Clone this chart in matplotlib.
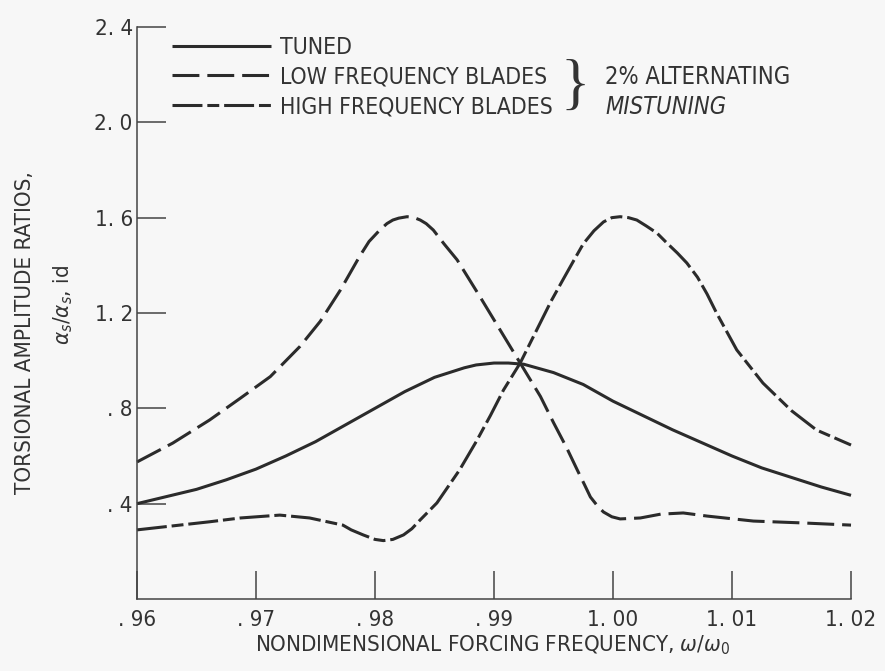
import numpy as np
import matplotlib.pyplot as plt

# values
freq_tuned = [0.960, 0.9625, 0.965, 0.9675, 0.970, 0.9725, 0.975, 0.9775, 0.980,
              0.9825, 0.985, 0.9875, 0.9885, 0.990, 0.9912, 0.9925, 0.995, 0.9975,
              1.000, 1.0025, 1.005, 1.0075, 1.010, 1.0125, 1.015, 1.0175, 1.020]
amp_tuned = [0.40, 0.43, 0.46, 0.50, 0.545, 0.60, 0.66, 0.73, 0.80,
             0.87, 0.93, 0.97, 0.982, 0.99, 0.99, 0.985, 0.95, 0.90,
             0.83, 0.77, 0.71, 0.655, 0.60, 0.55, 0.51, 0.47, 0.435]

freq_low = [0.960, 0.963, 0.9661, 0.9687, 0.9712, 0.9737, 0.9754, 0.9771, 0.9787,
            0.9795, 0.9804, 0.981, 0.9815, 0.982, 0.9827, 0.9833, 0.9838, 0.9843,
            0.9849, 0.9858, 0.9869, 0.9888, 0.9905, 0.9922, 0.9939, 0.995, 0.9961,
            0.997, 0.9976, 0.9981, 0.9987, 0.9992, 0.9999, 1.0006, 1.0023, 1.004,
            1.0059, 1.0079, 1.0118, 1.016, 1.020]
amp_low = [0.575, 0.654, 0.751, 0.843, 0.933, 1.06, 1.165, 1.297, 1.437,
           1.50, 1.548, 1.575, 1.59, 1.598, 1.604, 1.600, 1.59, 1.575,
           1.548, 1.49, 1.423, 1.27, 1.13, 0.99, 0.85, 0.74, 0.635,
           0.541, 0.48, 0.428, 0.39, 0.365, 0.345, 0.336, 0.34, 0.356,
           0.361, 0.348, 0.327, 0.319, 0.31]

freq_high = [0.960, 0.9661, 0.9687, 0.972, 0.9745, 0.9773, 0.978, 0.979, 0.980,
             0.9807, 0.9815, 0.9824, 0.9831, 0.9838, 0.9852, 0.9871, 0.9885, 0.9897,
             0.9908, 0.9922, 0.993, 0.9939, 0.9948, 0.9958, 0.9967, 0.9975, 0.9984,
             0.9992, 0.9999, 1.0006, 1.0013, 1.002, 1.0028, 1.0037, 1.0045, 1.0054,
             1.0062, 1.0071, 1.0079, 1.0087, 1.0104, 1.0126, 1.0150, 1.0171, 1.020]
amp_high = [0.29, 0.324, 0.34, 0.352, 0.34, 0.31, 0.29, 0.269, 0.25,
            0.245, 0.25, 0.269, 0.295, 0.332, 0.403, 0.541, 0.66, 0.77,
            0.877, 0.99, 1.07, 1.16, 1.25, 1.34, 1.42, 1.49, 1.545,
            1.582, 1.600, 1.604, 1.600, 1.59, 1.565, 1.535, 1.495, 1.452,
            1.41, 1.35, 1.28, 1.20, 1.045, 0.906, 0.79, 0.709, 0.646]

x_ticks = [0.96, 0.97, 0.98, 0.99, 1.00, 1.01, 1.02]
x_labels = [". 96", ". 97", ". 98", ". 99", "1. 00", "1. 01", "1. 02"]
y_ticks = [0.4, 0.8, 1.2, 1.6, 2.0, 2.4]
y_labels = [". 4", ". 8", "1. 2", "1. 6", "2. 0", "2. 4"]

ink = "#2b2b2b"
txt = "#333333"
bg = "#f7f7f7"

plt.rcParams["font.family"] = ["DejaVu Sans"]
plt.rcParams["font.stretch"] = "condensed"
plt.rcParams["mathtext.fontset"] = "dejavusans"

fig = plt.figure(figsize=(8.85, 6.71), dpi=100, facecolor=bg)
ax = fig.add_axes([0.1548, 0.1073, 0.8068, 0.8525], facecolor=bg)

lw = 2.2
ax.plot(freq_tuned, amp_tuned, color=ink, lw=lw, clip_on=False,
        solid_capstyle="butt", label="TUNED")
ax.plot(freq_low, amp_low, color=ink, lw=lw, clip_on=False,
        linestyle=(0, (8.8, 2.6)), dash_capstyle="butt",
        label="LOW FREQUENCY BLADES")
ax.plot(freq_high, amp_high, color=ink, lw=lw, clip_on=False,
        linestyle=(0, (9.8, 1.6, 3.9, 1.6)), dash_capstyle="butt",
        label="HIGH FREQUENCY BLADES")

ax.set_xlim(0.96, 1.02)
ax.set_ylim(0, 2.4)
ax.spines["top"].set_visible(False)
ax.spines["right"].set_visible(False)
for s in ["left", "bottom"]:
    ax.spines[s].set_color("#444444")
    ax.spines[s].set_linewidth(1.1)

ax.set_xticks(x_ticks)
ax.set_xticklabels(x_labels)
ax.set_yticks(y_ticks)
ax.set_yticklabels(y_labels)
ax.tick_params(axis="x", direction="in", length=20, width=1.1, color="#444444",
               pad=8, labelsize=16, labelcolor=txt)
ax.tick_params(axis="y", direction="in", length=21, width=1.1, color="#444444",
               pad=3, labelsize=16, labelcolor=txt)

leg = ax.legend(loc="upper left", bbox_to_anchor=(0.049, 0.985), frameon=False,
                fontsize=16.5, handlelength=4.3, handletextpad=0.4,
                labelspacing=0.3, borderpad=0, borderaxespad=0)
for t in leg.get_texts():
    t.set_color(txt)

fig.text(0.650, 0.869, "}", fontsize=44, color=txt, ha="center", va="center",
         family="Liberation Serif", fontstretch="normal")
fig.text(0.684, 0.885, "2% ALTERNATING", fontsize=17, color=txt, va="center")
fig.text(0.684, 0.840, "MISTUNING", fontsize=17, color=txt, va="center",
         style="italic")

fig.text(0.028, 0.504, "TORSIONAL AMPLITUDE RATIOS,", rotation=90, fontsize=16,
         color=txt, ha="center", va="center")
fig.text(0.071, 0.545, r"$\alpha_s/\alpha_s$, id", rotation=90, fontsize=16,
         color=txt, ha="center", va="center")
fig.text(0.557, 0.039, r"NONDIMENSIONAL FORCING FREQUENCY, $\omega/\omega_0$",
         fontsize=16, color=txt, ha="center", va="center")

fig.savefig("out.png", dpi=100, facecolor=bg)
